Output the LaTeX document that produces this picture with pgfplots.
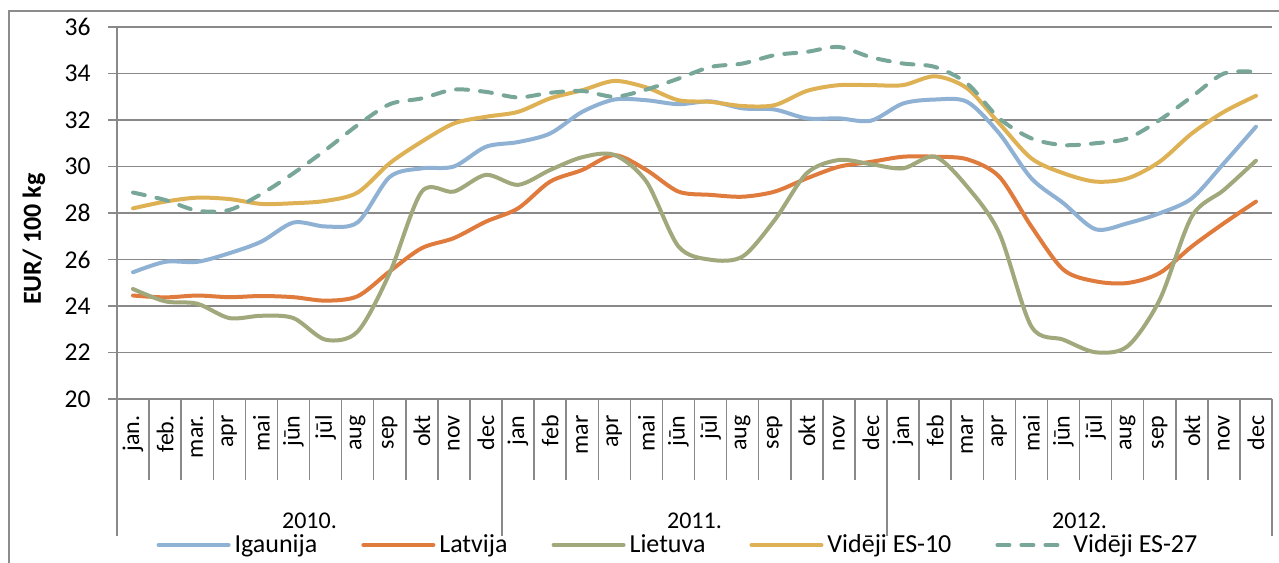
\documentclass[border=0pt]{standalone}
\usepackage{pgfplots}
\pgfplotsset{compat=1.18}
\usepackage{pgfplotstable}
\usepackage{fontspec}
\setmainfont{Carlito}
\definecolor{cig}{RGB}{143,177,211}
\definecolor{clv}{RGB}{224,123,62}
\definecolor{clt}{RGB}{160,168,124}
\definecolor{ces10}{RGB}{222,177,85}
\definecolor{ces27}{RGB}{120,167,153}
\definecolor{gridc}{RGB}{137,137,137}
\definecolor{borderc}{RGB}{140,140,140}
\pgfplotstableread{
x ig lv lt esa esb
0 25.45 24.45 24.73 28.20 28.88
1 25.90 24.37 24.20 28.49 28.56
2 25.90 24.45 24.10 28.66 28.10
3 26.27 24.38 23.48 28.60 28.13
4 26.77 24.43 23.58 28.39 28.82
5 27.59 24.38 23.48 28.42 29.71
6 27.42 24.23 22.55 28.52 30.71
7 27.60 24.42 22.90 28.88 31.78
8 29.55 25.49 25.42 30.14 32.68
9 29.92 26.49 28.92 31.07 32.93
10 30.00 26.92 28.92 31.85 33.31
11 30.85 27.63 29.64 32.14 33.21
12 31.05 28.20 29.21 32.35 32.97
13 31.42 29.35 29.85 32.93 33.17
14 32.35 29.85 30.40 33.28 33.25
15 32.88 30.49 30.50 33.68 33.00
16 32.85 29.85 29.35 33.40 33.31
17 32.68 28.92 26.56 32.85 33.78
18 32.80 28.78 25.99 32.78 34.28
19 32.50 28.70 26.13 32.60 34.43
20 32.45 28.92 27.70 32.64 34.79
21 32.07 29.49 29.71 33.25 34.93
22 32.07 29.99 30.28 33.50 35.14
23 31.97 30.20 30.10 33.50 34.70
24 32.71 30.42 29.92 33.50 34.43
25 32.88 30.42 30.42 33.88 34.28
26 32.78 30.31 29.13 33.36 33.57
27 31.42 29.56 27.13 31.85 32.07
28 29.49 27.42 23.12 30.35 31.21
29 28.42 25.56 22.55 29.71 30.92
30 27.30 25.06 22.01 29.35 31.00
31 27.56 24.99 22.27 29.49 31.21
32 27.99 25.42 24.27 30.21 32.00
33 28.63 26.56 27.85 31.42 33.00
34 30.14 27.56 28.99 32.35 34.00
35 31.71 28.49 30.25 33.04 34.07
}\datatable
\begin{document}
\begin{tikzpicture}
\useasboundingbox (0,0) rectangle (639.5pt,281pt);
\draw[borderc, line width=0.75pt] (4.5pt,-2pt) -- (4.5pt,275.5pt) -- (642pt,275.5pt);
\begin{axis}[
  at={(58.5pt,81.5pt)}, anchor=south west,
  width=577.5pt, height=186pt, scale only axis,
  xmin=-0.5, xmax=35.5, ymin=20, ymax=36,
  ytick={20,22,...,36},
  ymajorgrids, grid style={gridc, line width=0.75pt},
  axis x line*=bottom, axis y line*=left,
  axis line style={gridc, line width=0.75pt},
  tick align=outside, major tick length=4.5pt,
  tick style={gridc, line width=0.75pt},
  x tick style={draw=none},
  xtick={0,...,35},
  xticklabels={jan.,feb.,mar.,apr,mai,jūn,jūl,aug,sep,okt,nov,dec,jan,feb,mar,apr,mai,jūn,jūl,aug,sep,okt,nov,dec,jan,feb,mar,apr,mai,jūn,jūl,aug,sep,okt,nov,dec},
  xticklabel style={rotate=90, anchor=east, inner sep=0pt, font=\fontsize{12}{14}\selectfont},
  xticklabel shift=3.5pt,
  yticklabel style={inner sep=0pt, font=\fontsize{12.8}{15}\selectfont},
  yticklabel shift=8.5pt,
  /pgf/number format/assume math mode=true,
  clip=false,
  legend columns=5,
  legend style={draw=none, fill=none, at={(0.4866,-0.3925)}, anchor=center,
    font=\fontsize{13}{15}\selectfont, inner sep=0pt,
    /tikz/every even column/.append style={column sep=20pt}},
  legend image code/.code={\draw[#1] (0pt,0pt) -- (35pt,0pt);},
  every axis plot/.append style={line width=2pt, smooth, line cap=round},
]
\pgfplotsinvokeforeach{0.5,1.5,2.5,3.5,4.5,5.5,6.5,7.5,8.5,9.5,10.5,12.5,13.5,14.5,15.5,16.5,17.5,18.5,19.5,20.5,21.5,22.5,24.5,25.5,26.5,27.5,28.5,29.5,30.5,31.5,32.5,33.5,34.5}{
  \draw[gridc, line width=0.75pt] (axis cs:#1,20) -- ++(0pt,-40.5pt);
}
\pgfplotsinvokeforeach{-0.5,11.5,23.5,35.5}{
  \draw[gridc, line width=0.75pt] (axis cs:#1,20) -- ++(0pt,-68.5pt);
}
\node[font=\fontsize{12}{14}\selectfont] at ([yshift=-61pt]axis cs:5.5,20) {2010.};
\node[font=\fontsize{12}{14}\selectfont] at ([yshift=-61pt]axis cs:17.5,20) {2011.};
\node[font=\fontsize{12}{14}\selectfont] at ([yshift=-61pt]axis cs:29.5,20) {2012.};
\node[rotate=90, font=\bfseries\fontsize{13}{15}\selectfont] at (rel axis cs:-0.0719,0.43) {EUR/ 100 kg};
\addplot[cig] table[x=x,y=ig]{\datatable};
\addlegendentry{Igaunija}
\addplot[clv] table[x=x,y=lv]{\datatable};
\addlegendentry{Latvija}
\addplot[clt] table[x=x,y=lt]{\datatable};
\addlegendentry{Lietuva}
\addplot[ces10] table[x=x,y=esa]{\datatable};
\addlegendentry{Vidēji ES-10}
\addplot[ces27, dash pattern=on 6pt off 6pt] table[x=x,y=esb]{\datatable};
\addlegendentry{Vidēji ES-27}
\end{axis}
\end{tikzpicture}
\end{document}
